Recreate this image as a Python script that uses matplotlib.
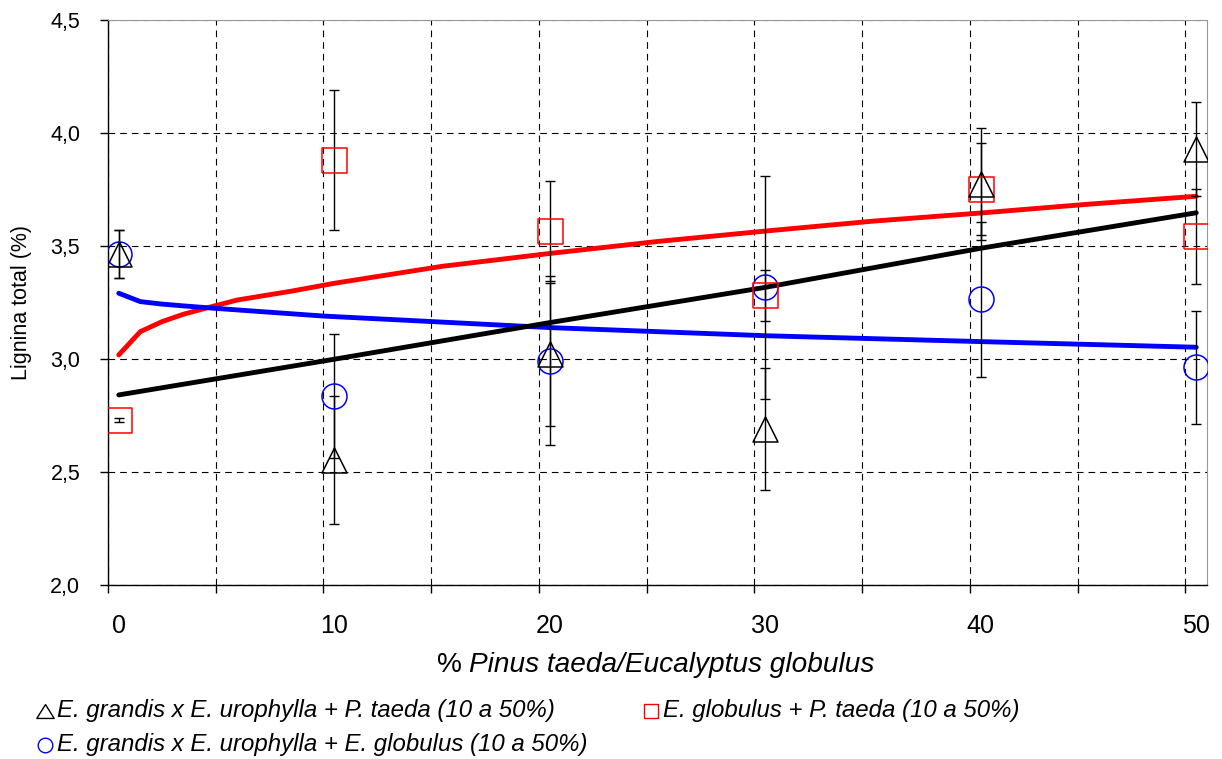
import numpy as np
import matplotlib
matplotlib.use("Agg")
import matplotlib.pyplot as plt
from matplotlib.lines import Line2D

plt.rcParams["font.family"] = ["Liberation Sans", "DejaVu Sans"]

# ── Data ──────────────────────────────────────────────────────────────────────
# % Pinus taeda / Eucalyptus globulus in the mixture
PCT = np.array([0, 10, 20, 30, 40, 50])
X_SHIFT = 0.5   # points sit half a unit to the right of the grid lines

# E. grandis x E. urophylla + P. taeda
TRI_Y   = [3.465, 2.554, 3.020, 2.692, 3.774, 3.929]
TRI_ERR = [0.105, 0.284, 0.317, 0.270, 0.249, 0.208]
# E. globulus + P. taeda
SQ_Y    = [2.730, 3.881, 3.567, 3.281, 3.752, 3.543]
SQ_ERR  = [0.010, 0.310, 0.222, 0.113, 0.202, 0.209]
# E. grandis x E. urophylla + E. globulus
CIR_Y   = [3.465, 2.836, 2.993, 3.317, 3.264, 2.963]
CIR_ERR = [0.105, 0.275, 0.373, 0.494, 0.342, 0.251]

# trend curves
RED_X = [0, 1, 2, 3, 4, 5.5, 8, 10, 15, 20, 25, 30, 35, 40, 45, 50]
RED_Y = [3.018, 3.121, 3.165, 3.198, 3.224, 3.261, 3.300, 3.335, 3.410,
         3.467, 3.520, 3.566, 3.610, 3.646, 3.685, 3.720]
BLUE_X = [0, 1, 2, 3, 4.5, 9.5, 20, 30, 40, 50]
BLUE_Y = [3.291, 3.254, 3.243, 3.235, 3.224, 3.190, 3.139, 3.103, 3.077, 3.052]
BLACK_X = [0, 10, 20, 30, 40, 50]
BLACK_Y = [2.841, 2.999, 3.161, 3.317, 3.490, 3.647]

Y_TICKS = [2.0, 2.5, 3.0, 3.5, 4.0, 4.5]

LEGEND = [
    ("tri", "black", "E. grandis x E. urophylla + P. taeda (10 a 50%)"),
    ("sq", "red", "E. globulus + P. taeda (10 a 50%)"),
    ("cir", "blue", "E. grandis x E. urophylla + E. globulus (10 a 50%)"),
]

# open markers, same box size as the Excel ones
TRI = [(0, 1), (-1, -1), (1, -1), (0, 1)]
TRI_LEG = [(0, 0.8), (-1, -0.8), (1, -0.8), (0, 0.8)]
SQ = [(-1, -1), (1, -1), (1, 1), (-1, 1), (-1, -1)]
MARKERS = {"tri": TRI, "sq": SQ, "cir": "o"}

W, H = 1222, 759
fig = plt.figure(figsize=(W / 100, H / 100), dpi=100)
ax = fig.add_axes([108 / W, 1 - 585 / H, (1207 - 108) / W, (585 - 20) / H])

ax.set_xlim(0, 51)
ax.set_ylim(2.0, 4.5)

# grid ticks every 5, labels under the data columns
ax.set_xticks(np.arange(0, 51, 5))
ax.set_xticklabels([])
ax.set_xticks(PCT + X_SHIFT, minor=True)
ax.set_xticklabels([str(p) for p in PCT], minor=True, fontsize=18)
ax.tick_params(axis="x", which="major", direction="out", length=6, width=1)
ax.tick_params(axis="x", which="minor", length=0, pad=21)

ax.set_yticks(Y_TICKS)
ax.set_yticklabels([f"{v:.1f}".replace(".", ",") for v in Y_TICKS], fontsize=15.5)
ax.tick_params(axis="y", direction="out", length=6, width=1, pad=14)

grid_kw = dict(color="black", linewidth=0.8, dashes=(6, 4.5))
ax.grid(True, axis="both", which="major", **grid_kw)
ax.set_axisbelow(True)

for side in ["top", "right"]:
    ax.spines[side].set_color("#999999")
for side in ["left", "bottom"]:
    ax.spines[side].set_color("black")
    ax.spines[side].set_linewidth(1.0)

# trend curves
ax.plot(np.array(RED_X) + X_SHIFT, RED_Y, color="#FF0000", linewidth=3.5, zorder=3,
        solid_capstyle="round")
ax.plot(np.array(BLUE_X) + X_SHIFT, BLUE_Y, color="#0000FF", linewidth=3.5, zorder=3,
        solid_capstyle="round")
ax.plot(np.array(BLACK_X) + X_SHIFT, BLACK_Y, color="black", linewidth=3.5, zorder=3,
        solid_capstyle="round")

# error bars + markers
x = PCT + X_SHIFT
for ys, err, key, col in [(CIR_Y, CIR_ERR, "cir", "blue"),
                          (SQ_Y, SQ_ERR, "sq", "red"),
                          (TRI_Y, TRI_ERR, "tri", "black")]:
    ax.errorbar(x, ys, yerr=err, fmt="none", ecolor="black", elinewidth=1.0,
                capsize=3.5, capthick=1.0, zorder=4)
    ax.plot(x, ys, linestyle="none", marker=MARKERS[key], markersize=18,
            markerfacecolor="none", markeredgecolor=col, markeredgewidth=1.1,
            zorder=5)

# axis titles
fig.text(22 / W, 1 - 303 / H, "Lignina total (%)", rotation=90, ha="center",
         va="center", fontsize=15.5)
fig.text(437 / W, 1 - 665 / H, "%", ha="left", va="center", fontsize=20.2)
fig.text(469 / W, 1 - 665 / H, "Pinus taeda/Eucalyptus globulus", ha="left",
         va="center", fontsize=20.2, style="italic")

# legend below the chart
leg_pos = [(45, 711), (651, 711), (45, 745)]
for (key, col, label), (px, py) in zip(LEGEND, leg_pos):
    mk = TRI_LEG if key == "tri" else MARKERS[key]
    ms = 12.5 if key == "tri" else 10.5
    fig.add_artist(Line2D([px / W], [1 - py / H], transform=fig.transFigure,
                          linestyle="none", marker=mk, markersize=ms,
                          markerfacecolor="none", markeredgecolor=col,
                          markeredgewidth=1.0))
    fig.text((px + 12) / W, 1 - py / H, label, ha="left", va="center",
             fontsize=17.3, style="italic")

fig.savefig("out.png", dpi=100)
